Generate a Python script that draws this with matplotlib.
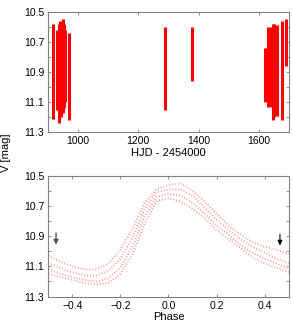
import matplotlib
matplotlib.use('Agg')
import matplotlib.pyplot as plt
from matplotlib.ticker import MultipleLocator, FixedLocator, FormatStrFormatter

plt.rcParams['font.family'] = ['Liberation Sans', 'DejaVu Sans']

# Top panel: observing runs (HJD - 2454000) with magnitude range covered
hjd = [920, 933, 937, 941, 944, 948, 952, 956, 959, 970,
       1289, 1379,
       1620, 1631, 1636, 1640, 1645, 1649, 1654, 1660, 1676, 1689]
mag_top = [10.58, 10.62, 10.58, 10.56, 10.57, 10.60, 10.55, 10.58, 10.62, 10.64,
           10.60, 10.60,
           10.74, 10.60, 10.62, 10.60, 10.58, 10.58, 10.60, 10.59, 10.56, 10.55]
mag_bot = [11.21, 11.15, 11.24, 11.18, 11.20, 11.16, 11.17, 11.14, 11.10, 11.22,
           11.15, 10.96,
           11.10, 11.13, 11.10, 11.13, 11.22, 11.20, 11.18, 11.19, 11.22, 10.86]

# Bottom panel: phased light curve, several cycles
phase = [-0.5, -0.45, -0.4, -0.35, -0.3, -0.25, -0.2, -0.15, -0.1, -0.05, 0.0,
         0.05, 0.1, 0.15, 0.2, 0.25, 0.3, 0.35, 0.4, 0.45, 0.5]
cycle_a = [11.03, 11.07, 11.10, 11.12, 11.12, 11.08, 10.99, 10.85, 10.68, 10.59, 10.56,
           10.55, 10.60, 10.67, 10.75, 10.83, 10.89, 10.94, 10.97, 10.99, 11.02]
cycle_b = [11.08, 11.11, 11.14, 11.16, 11.16, 11.13, 11.05, 10.91, 10.72, 10.61, 10.59,
           10.59, 10.63, 10.71, 10.79, 10.86, 10.92, 10.97, 11.01, 11.05, 11.08]
cycle_c = [11.12, 11.15, 11.17, 11.19, 11.20, 11.18, 11.11, 10.97, 10.77, 10.64, 10.62,
           10.63, 10.68, 10.75, 10.83, 10.89, 10.96, 11.01, 11.05, 11.08, 11.12]
cycle_d = [11.15, 11.17, 11.19, 11.21, 11.22, 11.21, 11.15, 11.02, 10.82, 10.67, 10.65,
           10.67, 10.72, 10.78, 10.86, 10.92, 10.98, 11.04, 11.08, 11.11, 11.14]

yticks = [10.5, 10.7, 10.9, 11.1, 11.3]

fig = plt.figure(figsize=(2.93, 3.31), dpi=100)
ax1 = fig.add_axes([0.165, 0.601, 0.820, 0.363])
ax2 = fig.add_axes([0.165, 0.104, 0.820, 0.365])

ax1.vlines(hjd, mag_top, mag_bot, color='red', linewidth=2.2)
ax1.set_xlim(903, 1698)
ax1.xaxis.set_major_locator(MultipleLocator(200))
ax1.set_xlabel('HJD - 2454000', fontsize=8, labelpad=1)

for c in [cycle_a, cycle_b, cycle_c, cycle_d]:
    ax2.plot(phase, c, color='red', alpha=0.4, linewidth=1.4, linestyle=(0, (0.5, 1.0)))
ax2.set_xlim(-0.5, 0.5)
ax2.xaxis.set_major_locator(MultipleLocator(0.2))
ax2.set_xlabel('Phase', fontsize=8, labelpad=1)

ax2.annotate('', xy=(-0.468, 10.975), xytext=(-0.468, 10.86),
             arrowprops=dict(arrowstyle='-|>', color='#555555', lw=1.0, mutation_scale=7))
ax2.annotate('', xy=(0.464, 10.98), xytext=(0.464, 10.87),
             arrowprops=dict(arrowstyle='-|>', color='black', lw=0.8, mutation_scale=7))

for ax in [ax1, ax2]:
    ax.set_ylim(11.3, 10.5)
    ax.yaxis.set_major_locator(FixedLocator(yticks))
    ax.yaxis.set_minor_locator(MultipleLocator(0.1))
    ax.yaxis.set_major_formatter(FormatStrFormatter('%.1f'))
    ax.tick_params(which='both', direction='in', top=True, right=True,
                   length=2.5, width=0.6, color='#808080', labelsize=7.5, pad=3)
    for s in ax.spines.values():
        s.set_color('#808080')
        s.set_linewidth(0.8)

fig.text(0.022, 0.54, 'V [mag]', rotation=90, ha='center', va='center', fontsize=8)

fig.savefig('out.png', dpi=100)
